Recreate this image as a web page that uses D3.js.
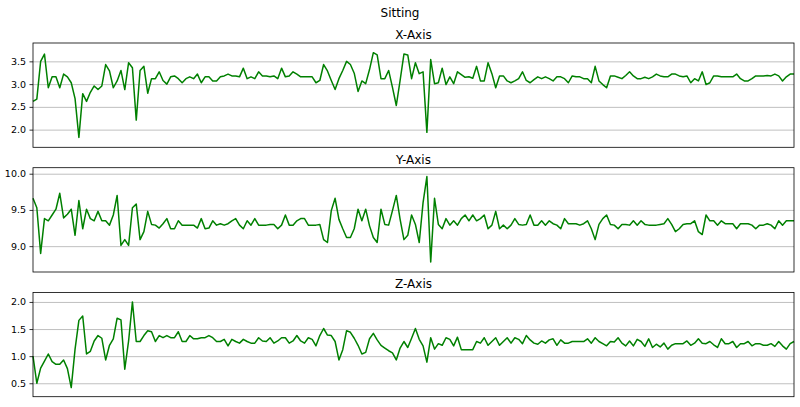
<!DOCTYPE html>
<html>
<head>
<meta charset="utf-8">
<script src="https://cdn.jsdelivr.net/npm/d3@7"></script>
<style>
  html, body { margin: 0; padding: 0; background: #fff; }
  svg { display: block; font-family: "DejaVu Sans", sans-serif; }
</style>
</head>
<body>
<svg id="chart" width="800" height="407"></svg>
<script>
const chartTitle = "Sitting";
const panelTitles = ["X-Axis", "Y-Axis", "Z-Axis"];

const xAxisValues = [
  2.62,2.67,3.5,3.66,2.92,3.16,3.16,2.92,3.22,3.16,
  3.03,2.68,1.83,2.79,2.62,2.82,2.96,2.88,2.96,3.43,
  3.29,2.92,3.07,3.3,2.88,3.47,3.36,2.21,3.3,3.39,
  2.8,3.12,3.12,3.27,3.08,3.0,3.16,3.18,3.12,3.03,
  3.12,3.16,3.12,3.22,3.03,3.16,3.16,3.07,3.07,3.16,
  3.18,3.22,3.18,3.18,3.16,3.35,3.12,3.16,3.12,3.27,3.18,
  3.18,3.16,3.18,3.12,3.35,3.16,3.18,3.27,3.22,3.16,
  3.16,3.16,3.16,3.03,3.08,3.43,3.29,3.08,2.88,3.12,
  3.3,3.5,3.43,3.24,2.84,3.07,3.01,3.32,3.69,3.64,
  3.12,3.12,3.3,2.93,2.53,3.08,3.66,3.64,3.12,3.47,
  3.23,3.27,1.94,3.54,3.01,3.03,3.35,2.99,3.16,3.01,
  3.27,3.21,3.15,3.16,3.13,3.39,3.07,3.07,3.47,3.23,
  2.92,3.18,3.18,3.07,3.03,3.07,3.12,3.27,3.08,3.03,
  3.10,3.16,3.12,3.16,3.12,3.07,3.16,3.16,3.12,3.03,
  3.18,3.16,3.16,3.12,3.12,3.03,3.39,3.07,2.99,2.92,
  3.18,3.18,3.15,3.12,3.19,3.27,3.18,3.12,3.12,3.15,
  3.12,3.16,3.22,3.18,3.16,3.16,3.22,3.22,3.18,3.16,
  3.18,3.03,3.12,3.07,3.27,2.99,3.03,3.18,3.18,3.16,
  3.16,3.16,3.16,3.22,3.12,3.07,3.07,3.12,3.18,3.18,
  3.18,3.19,3.18,3.22,3.18,3.07,3.16,3.22,3.22
];

const yAxisValues = [
  9.66,9.53,8.90,9.38,9.35,9.43,9.51,9.73,9.39,9.44,
  9.51,9.15,9.63,9.24,9.51,9.38,9.35,9.48,9.35,9.35,
  9.29,9.43,9.70,9.01,9.09,9.01,9.53,9.58,9.09,9.20,
  9.48,9.30,9.29,9.25,9.31,9.38,9.24,9.24,9.35,9.29,
  9.29,9.29,9.29,9.25,9.38,9.24,9.25,9.35,9.29,9.31,
  9.29,9.31,9.35,9.38,9.29,9.24,9.35,9.29,9.38,9.29,9.29,
  9.29,9.30,9.30,9.24,9.29,9.43,9.29,9.29,9.35,9.38,
  9.38,9.29,9.29,9.29,9.30,9.09,9.05,9.49,9.66,9.37,
  9.24,9.12,9.12,9.24,9.51,9.35,9.51,9.28,9.12,9.05,
  9.51,9.30,9.29,9.49,9.70,9.37,9.09,9.15,9.43,9.30,
  9.05,9.60,9.96,8.78,9.66,9.30,9.24,9.38,9.29,9.35,
  9.29,9.38,9.43,9.35,9.43,9.35,9.38,9.43,9.24,9.29,
  9.48,9.24,9.29,9.24,9.29,9.38,9.30,9.29,9.30,9.43,
  9.29,9.29,9.35,9.29,9.35,9.31,9.29,9.24,9.38,9.31,
  9.31,9.31,9.29,9.31,9.35,9.24,9.09,9.30,9.38,9.43,
  9.30,9.29,9.24,9.30,9.30,9.29,9.35,9.29,9.35,9.30,
  9.29,9.29,9.29,9.30,9.31,9.38,9.30,9.20,9.24,9.30,
  9.31,9.31,9.35,9.20,9.16,9.43,9.35,9.35,9.29,9.35,
  9.31,9.31,9.31,9.24,9.31,9.31,9.31,9.29,9.24,9.29,
  9.29,9.31,9.29,9.24,9.35,9.29,9.35,9.35,9.35
];

const zAxisValues = [
  1.0,0.50,0.78,0.91,1.04,0.90,0.85,0.85,0.93,0.77,
  0.42,1.13,1.66,1.74,1.04,1.09,1.28,1.38,1.33,0.93,
  1.20,1.32,1.70,1.67,0.76,1.28,2.0,1.27,1.27,1.38,
  1.47,1.45,1.27,1.38,1.34,1.38,1.34,1.34,1.45,1.27,
  1.27,1.38,1.32,1.32,1.34,1.34,1.38,1.34,1.27,1.27,
  1.31,1.19,1.31,1.27,1.24,1.31,1.27,1.24,1.24,1.34,1.28,
  1.27,1.34,1.24,1.28,1.34,1.34,1.24,1.28,1.38,1.28,
  1.24,1.34,1.31,1.19,1.38,1.51,1.39,1.38,1.27,0.93,
  1.12,1.47,1.44,1.33,1.20,1.04,1.07,1.32,1.42,1.30,
  1.20,1.15,1.10,1.06,0.93,1.15,1.27,1.16,1.33,1.51,
  1.31,1.19,0.89,1.34,1.13,1.23,1.20,1.34,1.31,1.19,
  1.35,1.12,1.12,1.12,1.12,1.27,1.24,1.34,1.20,1.27,
  1.34,1.20,1.27,1.34,1.24,1.34,1.31,1.23,1.38,1.30,
  1.24,1.22,1.28,1.24,1.30,1.32,1.20,1.30,1.24,1.24,
  1.27,1.27,1.27,1.27,1.32,1.24,1.34,1.27,1.23,1.19,
  1.27,1.26,1.34,1.24,1.19,1.28,1.19,1.31,1.27,1.18,
  1.32,1.16,1.22,1.17,1.24,1.13,1.20,1.23,1.23,1.23,
  1.28,1.20,1.24,1.32,1.24,1.23,1.27,1.21,1.16,1.32,
  1.23,1.23,1.27,1.16,1.23,1.23,1.27,1.19,1.23,1.23,
  1.20,1.20,1.23,1.18,1.27,1.19,1.13,1.23,1.27
];

const xTicks = [2.0, 2.5, 3.0, 3.5];
const yTicks = [9.0, 9.5, 10.0];
const zTicks = [0.5, 1.0, 1.5, 2.0];

const xDomain = [1.612, 3.903];
const yDomain = [8.643, 10.083];
const zDomain = [0.252, 2.176];

const panels = [
  { title: panelTitles[0], values: xAxisValues, ticks: xTicks, domain: xDomain },
  { title: panelTitles[1], values: yAxisValues, ticks: yTicks, domain: yDomain },
  { title: panelTitles[2], values: zAxisValues, ticks: zTicks, domain: zDomain }
];

const svg = d3.select("#chart");
const left = 33, right = 794;
const panelTop0 = 43, panelStep = 124.7, panelH = 104.3;

svg.append("text")
  .attr("x", 400).attr("y", 17)
  .attr("text-anchor", "middle")
  .attr("font-size", 12)
  .attr("fill", "#000")
  .text(chartTitle);

panels.forEach((p, k) => {
  const top = panelTop0 + panelStep * k;
  const bottom = top + panelH;
  const n = p.values.length;
  const x = d3.scaleLinear().domain([0, n - 1]).range([left, right]);
  const y = d3.scaleLinear().domain(p.domain).range([bottom, top]);

  const g = svg.append("g");

  // grid
  const grid = g.append("g")
    .attr("transform", `translate(${left},0)`)
    .call(d3.axisLeft(y).tickValues(p.ticks).tickSize(-(right - left)).tickFormat(""));
  grid.select(".domain").remove();
  grid.selectAll("line").attr("stroke", "#b0b0b0").attr("stroke-width", 0.8);

  // line
  g.append("path")
    .datum(p.values)
    .attr("fill", "none")
    .attr("stroke", "#008000")
    .attr("stroke-width", 1.5)
    .attr("stroke-linejoin", "round")
    .attr("d", d3.line().x((d, i) => x(i)).y(d => y(d)));

  // frame
  g.append("rect")
    .attr("x", left).attr("y", top)
    .attr("width", right - left).attr("height", panelH)
    .attr("fill", "none").attr("stroke", "#000").attr("stroke-width", 0.8);

  // y axis
  const ax = g.append("g")
    .attr("transform", `translate(${left},0)`)
    .call(d3.axisLeft(y).tickValues(p.ticks).tickSize(3.5).tickPadding(3.5).tickFormat(d3.format(".1f")));
  ax.select(".domain").remove();
  ax.selectAll("line").attr("stroke", "#000").attr("stroke-width", 0.8);
  ax.selectAll("text").attr("font-size", 9.5).attr("fill", "#000")
    .attr("font-family", "DejaVu Sans, sans-serif");

  // panel title
  svg.append("text")
    .attr("x", (left + right) / 2).attr("y", top - 4)
    .attr("text-anchor", "middle")
    .attr("font-size", 12)
    .attr("fill", "#000")
    .text(p.title);
});
</script>
</body>
</html>
